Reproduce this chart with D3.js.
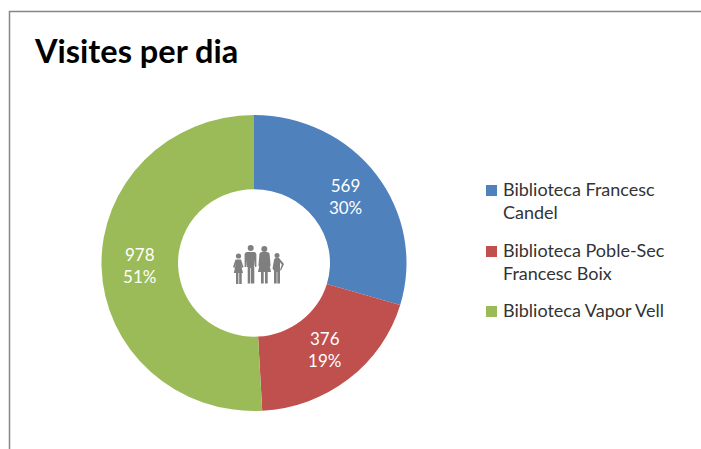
<!DOCTYPE html>
<html>
<head>
<meta charset="utf-8">
<script src="https://cdn.jsdelivr.net/npm/d3@7"></script>
<style>
  html, body { margin: 0; padding: 0; background: #fff; overflow: hidden; }
  text { font-family: Lato, "Open Sans", sans-serif; }
</style>
</head>
<body>
<div id="chart"></div>
<script>
var titleText = 'Visites per dia';
var libraries = ['Biblioteca Francesc Candel', 'Biblioteca Poble-Sec Francesc Boix', 'Biblioteca Vapor Vell'];
var legendLines = [['Biblioteca Francesc', 'Candel'], ['Biblioteca Poble-Sec', 'Francesc Boix'], ['Biblioteca Vapor Vell']];
var visits = [569, 376, 978];
var shares = ['30%', '19%', '51%'];
var colors = ['#4f81bd', '#c0504d', '#9bbb59'];

var width = 701, height = 449;
var cx = 254, cy = 263, outer = 152.5, inner = 76;
// the reference picture is slightly squashed vertically
var squash = 0.97;

var svg = d3.select('#chart')
            .append('svg')
            .attr('width', width)
            .attr('height', height)
            .style('display', 'block');

// chart frame, runs off the right and bottom of the crop
svg.append('path')
   .attr('d', 'M9.5,' + height + ' V11.5 H' + width)
   .attr('fill', 'none')
   .attr('stroke', '#868686')
   .attr('stroke-width', 1.5);

svg.append('text')
   .text(titleText)
   .attr('x', 35)
   .attr('y', 63)
   .attr('font-size', 32.5)
   .attr('font-weight', 700)
   .attr('fill', '#000');

var pie = d3.pie().sort(null)(visits);
var arc = d3.arc().innerRadius(inner).outerRadius(outer);

var donut = svg.append('g').attr('transform', 'translate(' + cx + ',' + cy + ')');

donut.append('g')
     .attr('transform', 'scale(1,' + squash + ')')
     .selectAll('path')
     .data(pie)
     .enter()
     .append('path')
     .attr('d', arc)
     .attr('fill', function(d, i) { return colors[i]; });

var labels = donut.selectAll('text')
     .data(pie)
     .enter()
     .append('text')
     .attr('text-anchor', 'middle')
     .attr('fill', '#fff')
     .attr('font-size', 17)
     .attr('transform', function(d) {
       var c = arc.centroid(d);
       return 'translate(' + c[0] + ',' + c[1] * squash + ')';
     });

labels.append('tspan')
      .attr('x', 0)
      .attr('y', -5)
      .text(function(d) { return d.value; });

labels.append('tspan')
      .attr('x', 0)
      .attr('y', 17)
      .text(function(d, i) { return shares[i]; });

// legend
var legendY = [190, 251, 311];
var legend = svg.selectAll('.legend')
     .data(libraries)
     .enter()
     .append('g')
     .attr('class', 'legend')
     .attr('transform', function(d, i) { return 'translate(486,' + legendY[i] + ')'; });

legend.append('rect')
      .attr('x', 0)
      .attr('y', -5)
      .attr('width', 11)
      .attr('height', 11)
      .attr('fill', function(d, i) { return colors[i]; });

legend.each(function(d, i) {
  d3.select(this).selectAll('text')
    .data(legendLines[i])
    .enter()
    .append('text')
    .text(function(t) { return t; })
    .attr('x', 17)
    .attr('y', function(t, j) { return 6 + j * 23; })
    .attr('font-size', 18)
    .attr('fill', '#333');
});

// family pictogram in the hole
var iconPaths = [
  // girl
  'M236,284 V273 H233.8 L236,263 L234.6,268 L233,267 L235.5,259.5 H241 L243.5,267 L242,268 L240.6,263 L243,273 H241.7 V284 H239.2 V273 H238.4 V284 Z',
  // man
  'M247.7,283.5 V267 H246.6 L246.3,260 L246,267 H244.6 V254.5 Q244.6,252 247,252 H254 Q256.4,252 256.4,254.5 V267 H255 L254.7,260 L254.3,267 V283.5 H251 V268 H250.3 V283.5 Z',
  // woman
  'M261,283.5 V272 H258 L261,257 L259.8,266 H258.4 L259.4,254 Q259.8,252 262,252 H267 Q269.2,252 269.6,254 L270.6,266 H269.2 L268,257 L271,272 H267.7 V283.5 H265 V272 H263.7 V283.5 Z',
  // boy
  'M274,283.5 V270 H273.2 L272.6,268 L274,260 Q274.3,258 276,258 H279 L284,264 L281,270.5 L280,270 L281.8,264.5 L280,262.5 V283.5 H277.3 V272 H276.7 V283.5 Z'
];
var iconHeads = [[238.5, 256, 2.6], [250.7, 248, 3], [264.3, 249, 3], [277, 255.5, 2.5]];

svg.append('g').selectAll('path')
   .data(iconPaths)
   .enter()
   .append('path')
   .attr('d', function(d) { return d; })
   .attr('fill', '#7f7f7f');

svg.append('g').selectAll('circle')
   .data(iconHeads)
   .enter()
   .append('circle')
   .attr('cx', function(d) { return d[0]; })
   .attr('cy', function(d) { return d[1]; })
   .attr('r', function(d) { return d[2]; })
   .attr('fill', '#7f7f7f');
</script>
</body>
</html>
